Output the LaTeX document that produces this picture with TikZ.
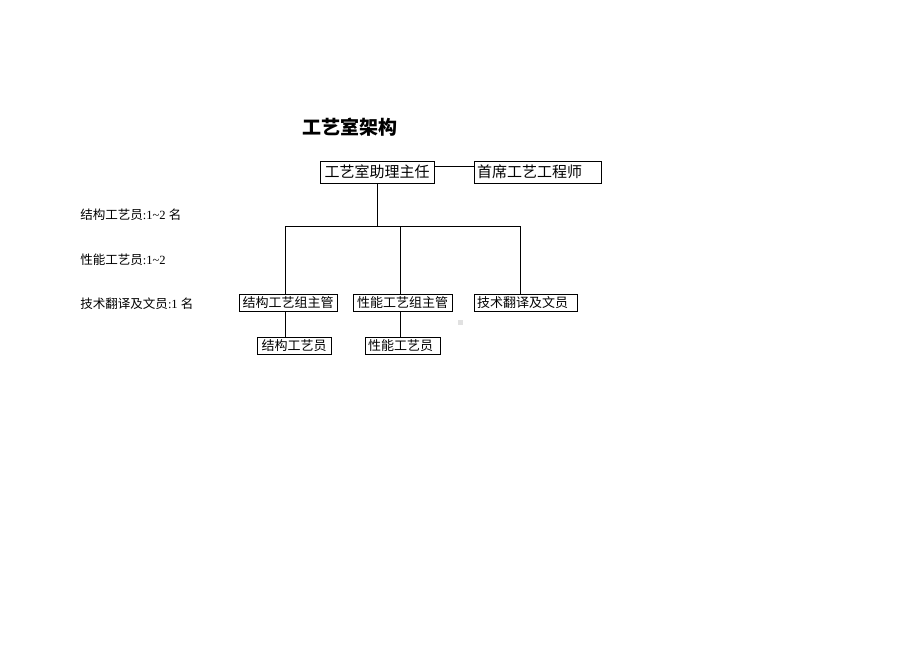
\documentclass[tikz,border=0pt]{standalone}
\usepackage{fontspec}
\setmainfont{Liberation Serif}
\newfontfamily\cjk{Noto Sans CJK SC}
\definecolor{dotgray}{RGB}{225, 225, 225}
\usetikzlibrary{positioning}

\begin{document}
\begin{tikzpicture}
				[x=0.75pt,y=-0.75pt,every node/.style={inner sep=0pt},
				box/.style={rectangle, draw=black, line width=0.6pt, inner xsep=2.25pt, align=left, minimum height=16.5pt, font=\cjk\fontsize{11.25}{12}\selectfont},
				small/.style={box, minimum height=12.75pt, font=\cjk\fontsize{9.75}{11}\selectfont},
				wd/.style={text width=#1*0.75pt-4.5pt},
				note/.style={anchor=west, font=\fontsize{9.4}{11}\selectfont},
				link/.style={line width=0.6pt, color=black}]
				\useasboundingbox (0,0) rectangle (920,651);
				% title
				\node (title) [font=\cjk\bfseries\fontsize{14.25}{16}\selectfont] at (350, 127) {工艺室架构};
				% head and chief engineer
				\node (zr) [box, wd=114, align=center] at (377, 172) {工艺室助理主任};
				\node (sx) [box, wd=127] at (537.5, 172) {首席工艺工程师};
				% group leads
				\node (ga) [small, wd=98, align=center] at (288, 302.5) {结构工艺组主管};
				\node (gb) [small, wd=99, align=center] at (402.5, 302.5) {性能工艺组主管};
				\node (gc) [small, wd=103] at (525.5, 302.5) {技术翻译及文员};
				% staff
				\node (ea) [small, wd=74, align=center] at (294, 345.5) {结构工艺员};
				\node (eb) [small, wd=75] at (402.5, 345.5) {性能工艺员};
				% head counts
				\node (na) [note] at (80, 215) {{\cjk 结构工艺员}:1\textasciitilde2 {\cjk 名}};
				\node (nb) [note] at (80, 260) {{\cjk 性能工艺员}:1\textasciitilde2};
				\node (nc) [note] at (80, 304) {{\cjk 技术翻译及文员}:1 {\cjk 名}};
				\node (dot) [fill=dotgray, minimum size=3.75pt] at (460.5, 322.5) {};
				% connectors
				\coordinate (fork) at (377, 226);
				\coordinate (ja) at (285, 226);
				\coordinate (jb) at (400, 226);
				\coordinate (jc) at (520, 226);
				\draw [link] ([yshift=4.5pt]zr.east) to ([yshift=4.5pt]sx.west);
				\draw [link] (zr.south) to (fork);
				\draw [link] (ja) to (jc);
				\draw [link] (ja) to (ja |- ga.north);
				\draw [link] (jb) to (jb |- gb.north);
				\draw [link] (jc) to (jc |- gc.north);
				\draw [link] (ja |- ga.south) to (ja |- ea.north);
				\draw [link] (jb |- gb.south) to (jb |- eb.north);
		\end{tikzpicture}
\end{document}
